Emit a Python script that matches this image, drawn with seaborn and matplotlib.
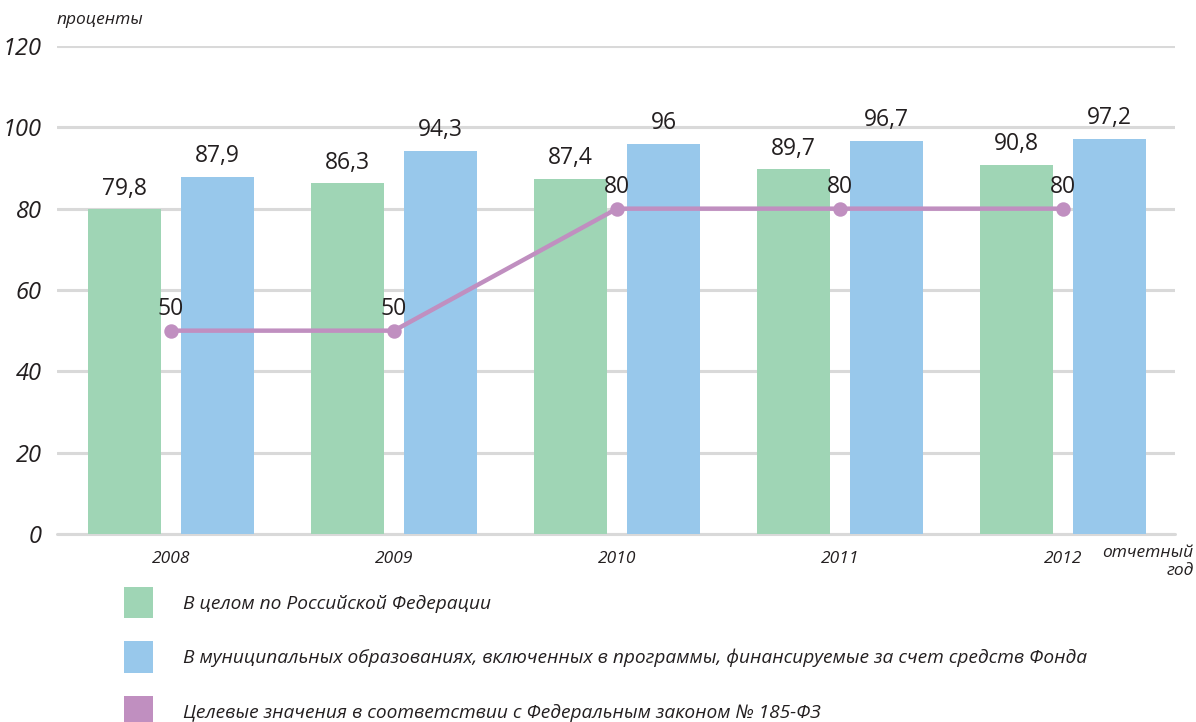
"""Bar chart with target line: share of ... by year (recreated)."""

import matplotlib

matplotlib.use("Agg")
import matplotlib.pyplot as plt
import pandas as pd
import seaborn as sns
from matplotlib.patches import Patch

YEARS = ["2008", "2009", "2010", "2011", "2012"]
RF_TOTAL = [79.8, 86.3, 87.4, 89.7, 90.8]
MUNICIPAL = [87.9, 94.3, 96.0, 96.7, 97.2]
TARGET = [50, 50, 80, 80, 80]
Y_TICKS = [0, 20, 40, 60, 80, 100, 120]

SERIES = [
    "В целом по Российской Федерации",
    "В муниципальных образованиях, включенных в программы, "
    "финансируемые за счет средств Фонда",
    "Целевые значения в соответствии с Федеральным законом № 185-ФЗ",
]

GREEN = "#9fd5b5"
BLUE = "#98c8eb"
PURPLE = "#c08fc0"
GRID = "#d9d9d9"
TEXT = "#231f20"
FONT = ["Open Sans", "DejaVu Sans"]


def fmt(value: float) -> str:
    return f"{value:g}".replace(".", ",")


sns.set_theme(style="white")
plt.rcParams["font.family"] = FONT
plt.rcParams["text.color"] = TEXT

frame = pd.DataFrame({
    "year": YEARS * 2,
    "value": RF_TOTAL + MUNICIPAL,
    "series": [SERIES[0]] * len(YEARS) + [SERIES[1]] * len(YEARS),
})

fig = plt.figure(figsize=(11.96, 7.22), dpi=100)
ax = fig.add_axes([0.0477, 0.2604, 0.9347, 0.6759])

sns.barplot(data=frame, x="year", y="value", hue="series",
            palette=[GREEN, BLUE], width=0.834, gap=0.216,
            saturation=1, linewidth=0, legend=False, ax=ax, zorder=2)
sns.pointplot(x=YEARS, y=TARGET, color=PURPLE, markers="o",
              linestyles="-", markersize=8, linewidth=3.2, ax=ax,
              zorder=4)

for container, values in zip(ax.containers, [RF_TOTAL, MUNICIPAL]):
    ax.bar_label(container, labels=[fmt(v) for v in values], padding=6,
                 fontsize=16.5, color=TEXT)

for idx, value in enumerate(TARGET):
    ax.annotate(fmt(value), (idx, value), xytext=(0, 7),
                textcoords="offset points", ha="center", va="bottom",
                fontsize=16.5, color=TEXT, zorder=5)

ax.set_ylim(0, 120)
ax.set_xlim(-0.511, 4.502)
ax.set_yticks(Y_TICKS)
ax.set_yticklabels([str(t) for t in Y_TICKS], fontsize=17, style="italic",
                   color=TEXT)
ax.set_xticks(range(len(YEARS)))
ax.set_xticklabels(YEARS, fontsize=12.5, style="italic", color=TEXT)
ax.tick_params(axis="y", length=0, pad=11)
ax.tick_params(axis="x", length=0, pad=12)
ax.set_xlabel("")
ax.set_ylabel("")
ax.yaxis.grid(True, color=GRID, linewidth=2.2, zorder=0)
ax.axhline(0, color=GRID, linewidth=2.2, clip_on=False, zorder=1)
ax.set_axisbelow(True)
sns.despine(ax=ax, left=True, bottom=True)

fig.text(0.0477, 0.972, "проценты", fontsize=12.5, style="italic",
         ha="left", va="center")
fig.text(0.998, 0.2216, "отчетный\nгод", fontsize=12.5, style="italic",
         ha="right", va="center", linespacing=1.15)

handles = [Patch(facecolor=c, edgecolor="none") for c in (GREEN, BLUE, PURPLE)]
fig.legend(handles, SERIES, loc="upper left",
           bbox_to_anchor=(124 / 1196, 1 - 587 / 722), frameon=False,
           prop={"style": "italic", "size": 13.8},
           handlelength=1.5, handleheight=2.15, handletextpad=1.57,
           labelspacing=1.2, borderpad=0, borderaxespad=0)

fig.savefig("out.png", dpi=100)
